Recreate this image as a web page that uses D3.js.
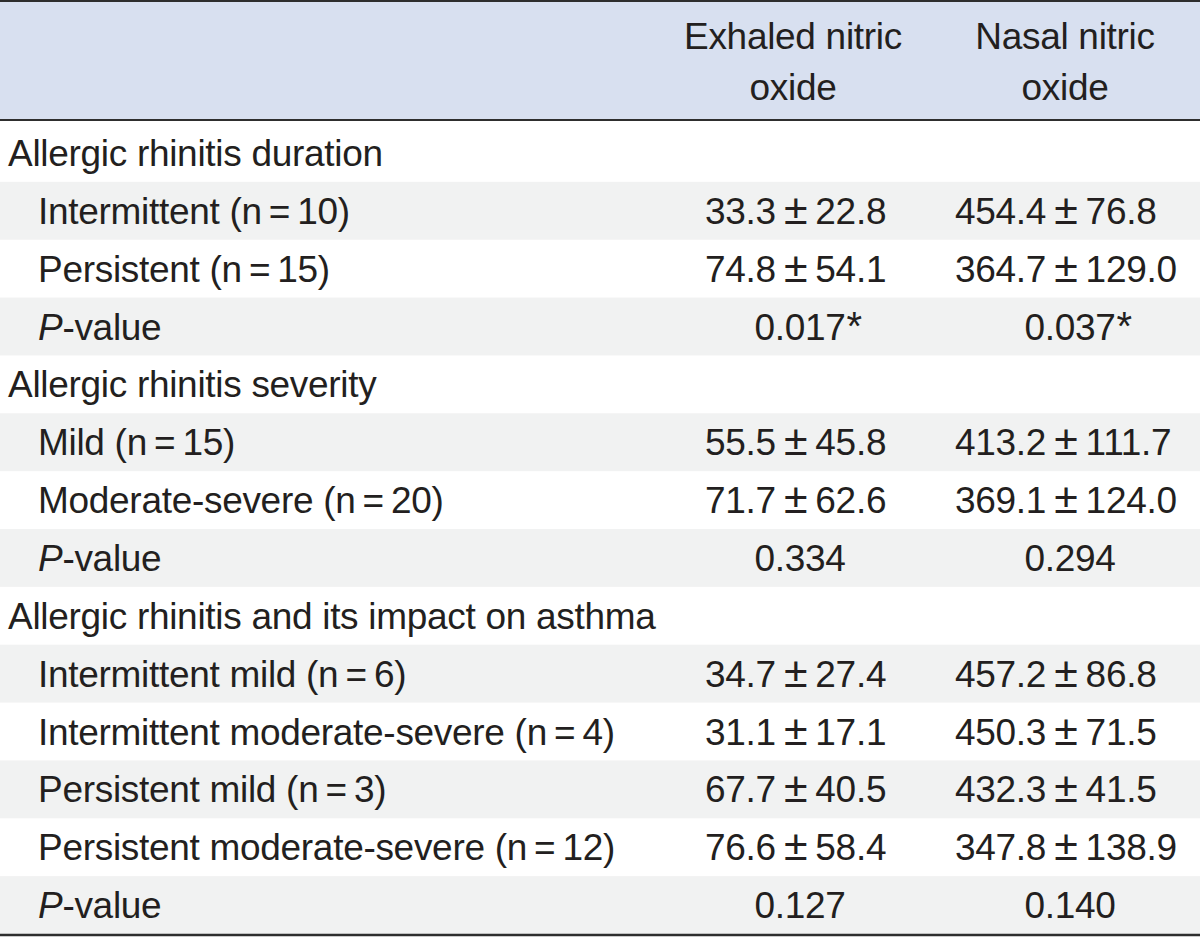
<!DOCTYPE html>
<html>
<head>
<meta charset="utf-8">
<script src="https://cdn.jsdelivr.net/npm/d3@7"></script>
<style>
  html, body { margin: 0; padding: 0; background: #ffffff; }
  svg text { font-family: "Liberation Sans", Arial, Helvetica, sans-serif; font-size: 37px; letter-spacing: -0.3px; fill: #231f20; }
</style>
</head>
<body>
<svg id="chart" width="1200" height="938"></svg>
<script>
// ---- data ----
const headers = [["Exhaled nitric", "oxide"], ["Nasal nitric", "oxide"]];
const sections = ["Allergic rhinitis duration", "Allergic rhinitis severity", "Allergic rhinitis and its impact on asthma"];
const groups = ["Intermittent", "Persistent", "Mild", "Moderate-severe", "Intermittent mild", "Intermittent moderate-severe", "Persistent mild", "Persistent moderate-severe"];
const groupSection = [0, 0, 1, 1, 2, 2, 2, 2];
const groupN = [10, 15, 15, 20, 6, 4, 3, 12];
const exhaledMean = [33.3, 74.8, 55.5, 71.7, 34.7, 31.1, 67.7, 76.6];
const exhaledSD = [22.8, 54.1, 45.8, 62.6, 27.4, 17.1, 40.5, 58.4];
const nasalMean = [454.4, 364.7, 413.2, 369.1, 457.2, 450.3, 432.3, 347.8];
const nasalSD = [76.8, 129.0, 111.7, 124.0, 86.8, 71.5, 41.5, 138.9];
const exhaledP = ["0.017", "0.334", "0.127"];
const nasalP = ["0.037", "0.294", "0.140"];
const exhaledSig = [true, false, false];
const nasalSig = [true, false, false];

// ---- build rows ----
const f1 = d3.format(".1f");
const rows = [];
sections.forEach((s, si) => {
  rows.push({type: "section", label: s});
  groups.forEach((g, gi) => {
    if (groupSection[gi] !== si) return;
    rows.push({type: "group", label: g + " (n\u2009=\u2009" + groupN[gi] + ")",
      vals: [[f1(exhaledMean[gi]), f1(exhaledSD[gi])], [f1(nasalMean[gi]), f1(nasalSD[gi])]]});
  });
  rows.push({type: "p", pvals: [exhaledP[si], nasalP[si]], sig: [exhaledSig[si], nasalSig[si]]});
});

// ---- layout ----
const W = 1200, H = 938;
const svg = d3.select("#chart");
const headerBottom = 120;
const y = d3.scaleBand().domain(d3.range(rows.length)).range([124, 934]).padding(0);
const dataX = [705, 955];
const pX = [800, 1070];
const headX = [793, 1065];

// header background
svg.append("rect").attr("x", 0).attr("y", 1).attr("width", W).attr("height", headerBottom - 1).attr("fill", "#d8e0f0");

// row shading
svg.selectAll("rect.shade").data(rows.map((r, i) => i).filter(i => i % 2 === 1)).join("rect")
  .attr("class", "shade")
  .attr("x", 0).attr("y", i => y(i)).attr("width", W).attr("height", y.bandwidth())
  .attr("fill", "#f1f2f2");

// rules
[[1, 2.2], [headerBottom, 2], [935, 2.4]].forEach(([yy, w]) => {
  svg.append("line").attr("x1", 0).attr("x2", W).attr("y1", yy).attr("y2", yy)
    .attr("stroke", "#2e2e2e").attr("stroke-width", w);
});

// header text
headers.forEach((lines, ci) => {
  lines.forEach((t, li) => {
    svg.append("text").attr("x", headX[ci]).attr("y", 49 + li * 51)
      .attr("text-anchor", "middle").text(t);
  });
});

// body
const base = i => y(i) + y.bandwidth() / 2 + 13;
rows.forEach((r, i) => {
  if (r.type === "section") {
    svg.append("text").attr("x", 8).attr("y", base(i)).text(r.label);
  } else if (r.type === "group") {
    svg.append("text").attr("x", 38).attr("y", base(i)).text(r.label);
    r.vals.forEach((v, ci) => {
      const t = svg.append("text").attr("x", dataX[ci]).attr("y", base(i));
      t.append("tspan").text(v[0] + "\u2009");
      t.append("tspan").style("font-size", "43px").attr("dx", 1).text("\u00b1");
      t.append("tspan").attr("dx", 1).text("\u2009" + v[1]);
    });
  } else {
    const t = svg.append("text").attr("x", 38).attr("y", base(i));
    t.append("tspan").attr("font-style", "italic").text("P");
    t.append("tspan").text("-value");
    r.pvals.forEach((v, ci) => {
      const tx = svg.append("text").attr("x", pX[ci]).attr("y", base(i)).attr("text-anchor", "middle").text(v);
      if (r.sig[ci]) {
        const w = tx.node().getComputedTextLength();
        svg.append("text").attr("x", pX[ci] + w / 2 + 1).attr("y", base(i)).style("font-size", "40px").text("*");
      }
    });
  }
});
</script>
</body>
</html>
